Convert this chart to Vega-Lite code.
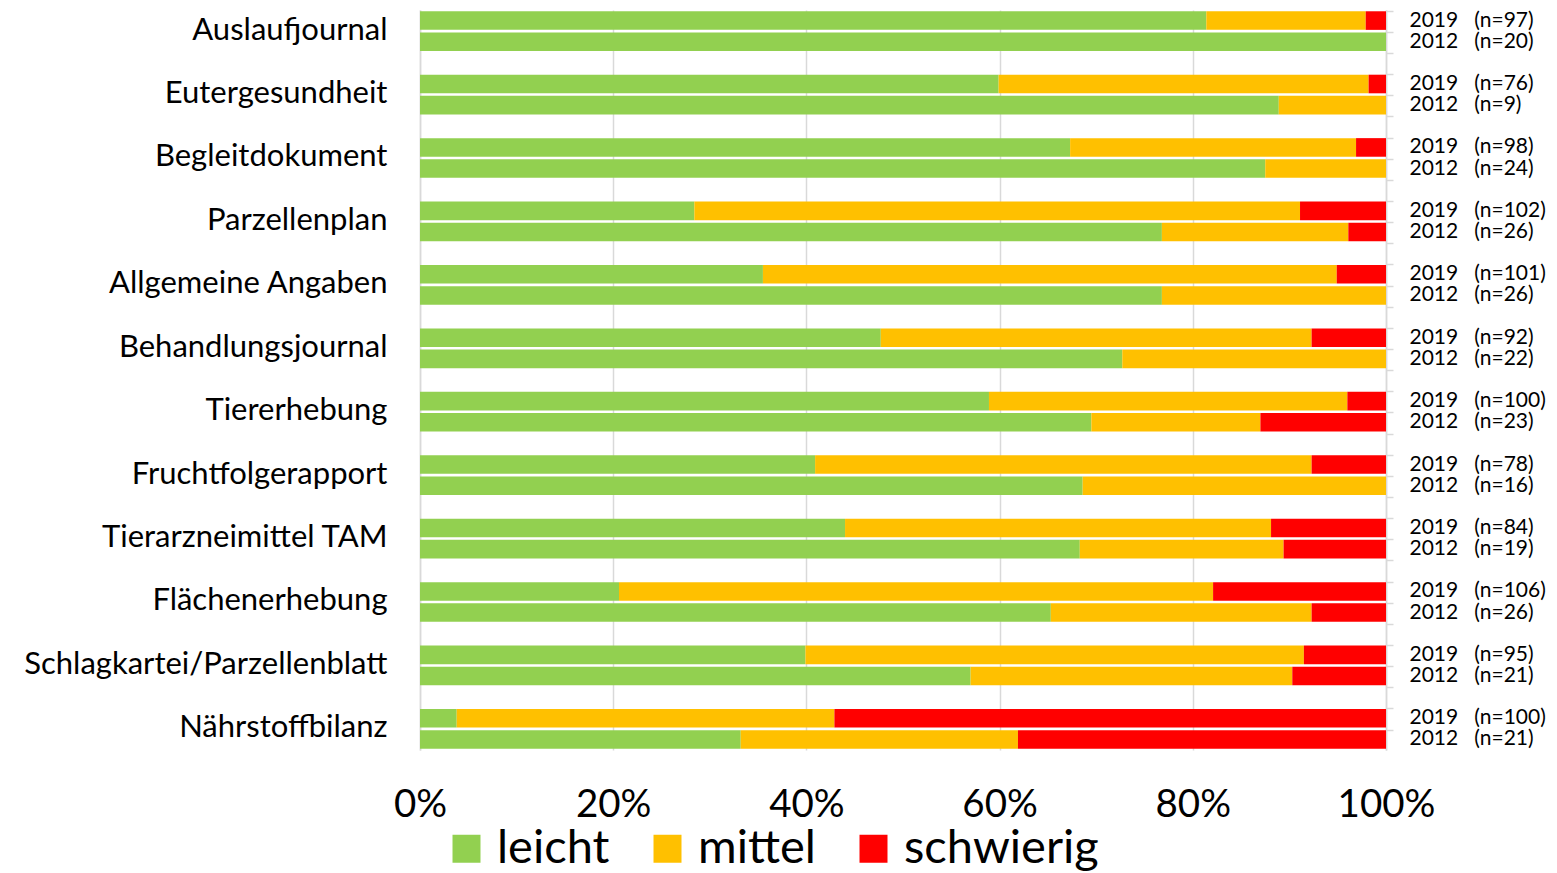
{
  "$schema": "https://vega.github.io/schema/vega-lite/v6.json",
  "width": 966,
  "height": 740,
  "autosize": "none",
  "padding": {"left": 420, "top": 10, "right": 171, "bottom": 123},
  "config": {"view": {"stroke": null}, "font": "Lato", "axis": {"labelColor": "black"}},
  "data": {"values": [
    {"row": "Auslaufjournal|2019|97", "level": "leicht", "pct": 81.4},
    {"row": "Auslaufjournal|2019|97", "level": "mittel", "pct": 16.5},
    {"row": "Auslaufjournal|2019|97", "level": "schwierig", "pct": 2.1},
    {"row": "Auslaufjournal|2012|20", "level": "leicht", "pct": 100},
    {"row": "Auslaufjournal|2012|20", "level": "mittel", "pct": 0},
    {"row": "Auslaufjournal|2012|20", "level": "schwierig", "pct": 0},
    {"row": "Eutergesundheit|2019|76", "level": "leicht", "pct": 59.9},
    {"row": "Eutergesundheit|2019|76", "level": "mittel", "pct": 38.3},
    {"row": "Eutergesundheit|2019|76", "level": "schwierig", "pct": 1.8},
    {"row": "Eutergesundheit|2012|9", "level": "leicht", "pct": 88.9},
    {"row": "Eutergesundheit|2012|9", "level": "mittel", "pct": 11.1},
    {"row": "Eutergesundheit|2012|9", "level": "schwierig", "pct": 0},
    {"row": "Begleitdokument|2019|98", "level": "leicht", "pct": 67.3},
    {"row": "Begleitdokument|2019|98", "level": "mittel", "pct": 29.6},
    {"row": "Begleitdokument|2019|98", "level": "schwierig", "pct": 3.1},
    {"row": "Begleitdokument|2012|24", "level": "leicht", "pct": 87.5},
    {"row": "Begleitdokument|2012|24", "level": "mittel", "pct": 12.5},
    {"row": "Begleitdokument|2012|24", "level": "schwierig", "pct": 0},
    {"row": "Parzellenplan|2019|102", "level": "leicht", "pct": 28.4},
    {"row": "Parzellenplan|2019|102", "level": "mittel", "pct": 62.7},
    {"row": "Parzellenplan|2019|102", "level": "schwierig", "pct": 8.9},
    {"row": "Parzellenplan|2012|26", "level": "leicht", "pct": 76.8},
    {"row": "Parzellenplan|2012|26", "level": "mittel", "pct": 19.3},
    {"row": "Parzellenplan|2012|26", "level": "schwierig", "pct": 3.9},
    {"row": "Allgemeine Angaben|2019|101", "level": "leicht", "pct": 35.5},
    {"row": "Allgemeine Angaben|2019|101", "level": "mittel", "pct": 59.4},
    {"row": "Allgemeine Angaben|2019|101", "level": "schwierig", "pct": 5.1},
    {"row": "Allgemeine Angaben|2012|26", "level": "leicht", "pct": 76.8},
    {"row": "Allgemeine Angaben|2012|26", "level": "mittel", "pct": 23.2},
    {"row": "Allgemeine Angaben|2012|26", "level": "schwierig", "pct": 0},
    {"row": "Behandlungsjournal|2019|92", "level": "leicht", "pct": 47.7},
    {"row": "Behandlungsjournal|2019|92", "level": "mittel", "pct": 44.6},
    {"row": "Behandlungsjournal|2019|92", "level": "schwierig", "pct": 7.7},
    {"row": "Behandlungsjournal|2012|22", "level": "leicht", "pct": 72.7},
    {"row": "Behandlungsjournal|2012|22", "level": "mittel", "pct": 27.3},
    {"row": "Behandlungsjournal|2012|22", "level": "schwierig", "pct": 0},
    {"row": "Tiererhebung|2019|100", "level": "leicht", "pct": 58.9},
    {"row": "Tiererhebung|2019|100", "level": "mittel", "pct": 37.1},
    {"row": "Tiererhebung|2019|100", "level": "schwierig", "pct": 4.0},
    {"row": "Tiererhebung|2012|23", "level": "leicht", "pct": 69.5},
    {"row": "Tiererhebung|2012|23", "level": "mittel", "pct": 17.5},
    {"row": "Tiererhebung|2012|23", "level": "schwierig", "pct": 13.0},
    {"row": "Fruchtfolgerapport|2019|78", "level": "leicht", "pct": 40.9},
    {"row": "Fruchtfolgerapport|2019|78", "level": "mittel", "pct": 51.4},
    {"row": "Fruchtfolgerapport|2019|78", "level": "schwierig", "pct": 7.7},
    {"row": "Fruchtfolgerapport|2012|16", "level": "leicht", "pct": 68.6},
    {"row": "Fruchtfolgerapport|2012|16", "level": "mittel", "pct": 31.4},
    {"row": "Fruchtfolgerapport|2012|16", "level": "schwierig", "pct": 0},
    {"row": "Tierarzneimittel TAM|2019|84", "level": "leicht", "pct": 44.0},
    {"row": "Tierarzneimittel TAM|2019|84", "level": "mittel", "pct": 44.1},
    {"row": "Tierarzneimittel TAM|2019|84", "level": "schwierig", "pct": 11.9},
    {"row": "Tierarzneimittel TAM|2012|19", "level": "leicht", "pct": 68.3},
    {"row": "Tierarzneimittel TAM|2012|19", "level": "mittel", "pct": 21.1},
    {"row": "Tierarzneimittel TAM|2012|19", "level": "schwierig", "pct": 10.6},
    {"row": "Flächenerhebung|2019|106", "level": "leicht", "pct": 20.6},
    {"row": "Flächenerhebung|2019|106", "level": "mittel", "pct": 61.5},
    {"row": "Flächenerhebung|2019|106", "level": "schwierig", "pct": 17.9},
    {"row": "Flächenerhebung|2012|26", "level": "leicht", "pct": 65.3},
    {"row": "Flächenerhebung|2012|26", "level": "mittel", "pct": 27.0},
    {"row": "Flächenerhebung|2012|26", "level": "schwierig", "pct": 7.7},
    {"row": "Schlagkartei/Parzellenblatt|2019|95", "level": "leicht", "pct": 39.9},
    {"row": "Schlagkartei/Parzellenblatt|2019|95", "level": "mittel", "pct": 51.6},
    {"row": "Schlagkartei/Parzellenblatt|2019|95", "level": "schwierig", "pct": 8.5},
    {"row": "Schlagkartei/Parzellenblatt|2012|21", "level": "leicht", "pct": 57.0},
    {"row": "Schlagkartei/Parzellenblatt|2012|21", "level": "mittel", "pct": 33.3},
    {"row": "Schlagkartei/Parzellenblatt|2012|21", "level": "schwierig", "pct": 9.7},
    {"row": "Nährstoffbilanz|2019|100", "level": "leicht", "pct": 3.8},
    {"row": "Nährstoffbilanz|2019|100", "level": "mittel", "pct": 39.1},
    {"row": "Nährstoffbilanz|2019|100", "level": "schwierig", "pct": 57.1},
    {"row": "Nährstoffbilanz|2012|21", "level": "leicht", "pct": 33.2},
    {"row": "Nährstoffbilanz|2012|21", "level": "mittel", "pct": 28.7},
    {"row": "Nährstoffbilanz|2012|21", "level": "schwierig", "pct": 38.1}
  ]},
  "layer": [
    {
      "mark": {"type": "bar"},
      "encoding": {
        "y": {
          "field": "row", "type": "nominal", "sort": null,
          "scale": {
            "domain": ["Auslaufjournal|2019|97", "Auslaufjournal|2012|20", "_1",
              "Eutergesundheit|2019|76", "Eutergesundheit|2012|9", "_2",
              "Begleitdokument|2019|98", "Begleitdokument|2012|24", "_3",
              "Parzellenplan|2019|102", "Parzellenplan|2012|26", "_4",
              "Allgemeine Angaben|2019|101", "Allgemeine Angaben|2012|26", "_5",
              "Behandlungsjournal|2019|92", "Behandlungsjournal|2012|22", "_6",
              "Tiererhebung|2019|100", "Tiererhebung|2012|23", "_7",
              "Fruchtfolgerapport|2019|78", "Fruchtfolgerapport|2012|16", "_8",
              "Tierarzneimittel TAM|2019|84", "Tierarzneimittel TAM|2012|19", "_9",
              "Flächenerhebung|2019|106", "Flächenerhebung|2012|26", "_10",
              "Schlagkartei/Parzellenblatt|2019|95", "Schlagkartei/Parzellenblatt|2012|21", "_11",
              "Nährstoffbilanz|2019|100", "Nährstoffbilanz|2012|21"],
            "paddingInner": 0.12, "paddingOuter": 0.06
          },
          "axis": {
            "orient": "left", "title": null, "ticks": false, "domain": true,
            "domainColor": "#D9D9D9", "domainWidth": 1.5,
            "labelFontSize": 31, "labelPadding": 33, "labelOffset": 10,
            "labelLimit": 600, "labelOverlap": false,
            "labelExpr": "split(datum.value, '|')[1] == '2019' ? split(datum.value, '|')[0] : ''"
          }
        },
        "x": {
          "field": "pct", "type": "quantitative", "stack": "zero",
          "scale": {"domain": [0, 100]},
          "axis": {
            "values": [0, 20, 40, 60, 80, 100], "labelExpr": "datum.value + '%'",
            "title": null, "domain": false, "ticks": false, "grid": true,
            "gridColor": "#D9D9D9", "gridWidth": 1.5, "labelFlush": false,
            "labelFontSize": 38.5, "labelPadding": 36
          }
        },
        "color": {
          "field": "level", "type": "nominal",
          "scale": {"domain": ["leicht", "mittel", "schwierig"], "range": ["#92D050", "#FFC000", "#FF0000"]},
          "legend": {
            "orient": "none", "legendX": 23, "legendY": 815, "direction": "horizontal",
            "title": null, "symbolType": "square", "symbolSize": 784, "symbolStrokeWidth": 0,
            "symbolOpacity": 1, "labelFontSize": 47, "labelOffset": 7, "columnPadding": 34,
            "labelLimit": 400, "labelColor": "black"
          }
        }
      }
    },
    {
      "mark": {"type": "bar", "opacity": 0},
      "encoding": {
        "y": {
          "field": "row", "type": "nominal", "sort": null,
          "axis": {
            "orient": "right", "title": null, "ticks": true, "tickColor": "#D9D9D9",
            "tickSize": 7, "tickWidth": 1.5, "bandPosition": 0, "domain": true,
            "domainColor": "#D9D9D9", "domainWidth": 1.5,
            "labelFontSize": 21, "labelPadding": 16, "labelOverlap": false, "labelLimit": 300,
            "labelExpr": "length(split(datum.value, '|')) > 1 ? split(datum.value, '|')[1] + '\u00a0\u00a0\u00a0(n=' + split(datum.value, '|')[2] + ')' : ''"
          }
        },
        "x": {"field": "pct", "type": "quantitative", "stack": "zero"}
      }
    }
  ],
  "resolve": {"axis": {"y": "independent"}}
}
